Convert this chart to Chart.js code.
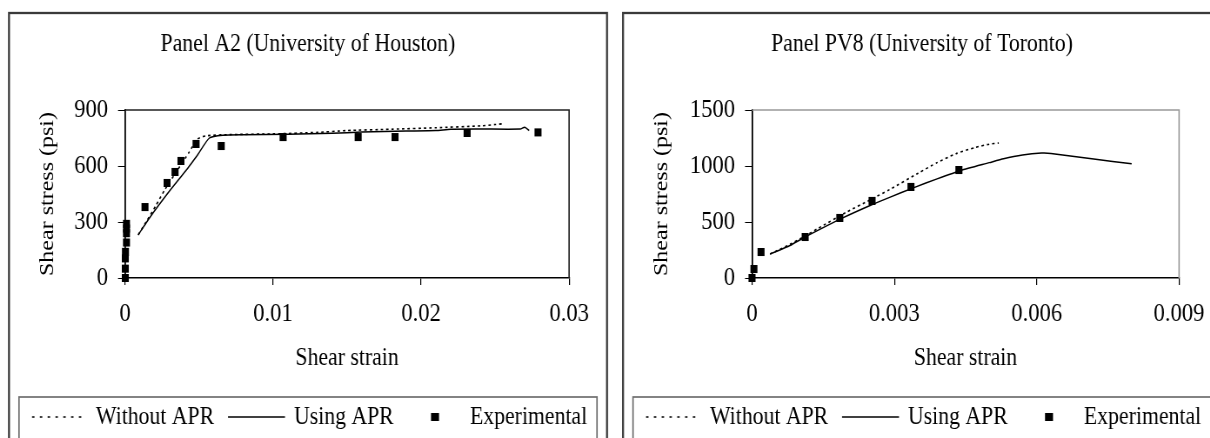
<!DOCTYPE html>
<html>
<head>
<meta charset="utf-8">
<script src="https://cdn.jsdelivr.net/npm/chart.js@4.4.0/dist/chart.umd.min.js"></script>
<style>
  body { margin: 0; background: #fff; }
  #wrap { position: relative; width: 1210px; height: 438px; overflow: hidden; }
  /* the source picture is squeezed sideways, so each panel is drawn wider and narrowed */
  .panel { position: absolute; top: 0; height: 438px; transform: scaleX(0.87); transform-origin: 0 0; }
</style>
</head>
<body>
<div id="wrap">
  <div class="panel" style="left:0;width:707px"><canvas id="chartA2"></canvas></div>
  <div class="panel" style="left:615px;width:684px"><canvas id="chartPV8"></canvas></div>
</div>
<script>
// Panel A2 (University of Houston)
const a2WithoutStrain = [0.0009, 0.0015, 0.0021, 0.0027, 0.0036, 0.0043, 0.0049, 0.0055, 0.007, 0.01, 0.013, 0.015, 0.018, 0.021, 0.024, 0.025, 0.0255];
const a2WithoutStress = [232, 310, 390, 475, 585, 670, 745, 762, 768, 772, 780, 790, 797, 805, 815, 822, 826];
const a2UsingStrain = [0.00088, 0.0017, 0.0029, 0.0037, 0.0043, 0.0049, 0.0057, 0.0066, 0.008, 0.011, 0.014, 0.016, 0.019, 0.021, 0.022, 0.024, 0.0267, 0.027, 0.0273];
const a2UsingStress = [230, 327, 455, 535, 595, 659, 750, 765, 768, 770, 775, 782, 787, 790, 797, 798, 798, 808, 790];
const a2ExpStrain = [0.00002, 0.00002, 0.00002, 0.00003, 0.0001, 0.0001, 0.0001, 0.0001, 0.00135, 0.00284, 0.00338, 0.00378, 0.0048, 0.0065, 0.01068, 0.01575, 0.01824, 0.02311, 0.0279];
const a2ExpStress = [0, 50, 105, 140, 190, 240, 265, 290, 380, 509, 568, 627, 718, 707, 755, 755, 755, 777, 780];
const a2XTicks = [0, 0.01, 0.02, 0.03];
const a2YTicks = [0, 300, 600, 900];

// Panel PV8 (University of Toronto)
const pv8WithoutStrain = [0.00038, 0.0008, 0.0011, 0.0014, 0.002, 0.0025, 0.0029, 0.0035, 0.0039, 0.0043, 0.0047, 0.005, 0.0052];
const pv8WithoutStress = [214, 300, 370, 445, 590, 700, 790, 935, 1030, 1110, 1165, 1195, 1205];
const pv8UsingStrain = [0.00038, 0.0008, 0.0011, 0.0015, 0.0019, 0.0025, 0.0029, 0.0034, 0.0039, 0.0044, 0.005, 0.0053, 0.0057, 0.0061, 0.0063, 0.0072, 0.008];
const pv8UsingStress = [214, 290, 362, 450, 535, 650, 720, 805, 885, 960, 1030, 1065, 1098, 1115, 1112, 1062, 1020];
const pv8ExpStrain = [0, 0.00004, 0.00019, 0.00112, 0.00185, 0.00253, 0.00335, 0.00436];
const pv8ExpStress = [0, 80, 232, 366, 536, 688, 813, 964];
const pv8XTicks = [0, 0.003, 0.006, 0.009];
const pv8YTicks = [0, 500, 1000, 1500];

const legendLabels = ['Without APR', 'Using APR', 'Experimental'];
const xTitle = 'Shear strain';
const yTitle = 'Shear stress (psi)';

const serif = 'Liberation Serif, Times New Roman, serif';
const SX = 0.87;              // same as the css scaleX
const cx = v => v / SX;       // page px -> canvas px (horizontal only)

function pairs(xs, ys) {
    return xs.map((x, i) => ({ x: x, y: ys[i] }));
}

// panel border, title, plot frame and boxed legend
const panelDecor = {
    id: 'panelDecor',
    afterDraw(chart, args, opts) {
        const ctx = chart.ctx;
        const a = chart.chartArea;
        const p = opts.panelLeft;
        ctx.save();
        // panel border
        ctx.strokeStyle = '#3a3a3a';
        ctx.lineWidth = 2.3;
        ctx.strokeRect(cx(p), 13, cx(598), 460);
        // top / right edges of the plot area
        ctx.strokeStyle = opts.frameColor;
        ctx.lineWidth = 1.6;
        ctx.beginPath();
        ctx.moveTo(a.left, a.top);
        ctx.lineTo(a.right, a.top);
        ctx.lineTo(a.right, a.bottom);
        ctx.stroke();
        // title
        ctx.fillStyle = '#000';
        ctx.font = '25px ' + serif;
        ctx.textAlign = 'center';
        ctx.textBaseline = 'middle';
        ctx.fillText(opts.title, cx(p + 299), 44);
        // legend box
        const lx = p + 10;
        const ly = 417;
        ctx.strokeStyle = '#6e6e6e';
        ctx.lineWidth = 1.7;
        ctx.strokeRect(cx(lx), 397, cx(578), 60);
        ctx.strokeStyle = '#000';
        ctx.lineWidth = 1.6;
        ctx.setLineDash([cx(2.5), cx(5.3)]);
        ctx.beginPath();
        ctx.moveTo(cx(lx + 13), ly);
        ctx.lineTo(cx(lx + 67), ly);
        ctx.stroke();
        ctx.setLineDash([]);
        ctx.lineWidth = 1.4;
        ctx.beginPath();
        ctx.moveTo(cx(lx + 209), ly);
        ctx.lineTo(cx(lx + 266), ly);
        ctx.stroke();
        ctx.fillRect(cx(lx + 412), ly - 4, cx(8), 8);
        ctx.textAlign = 'left';
        ctx.fillText(legendLabels[0], cx(lx + 77), ly);
        ctx.fillText(legendLabels[1], cx(lx + 275), ly);
        ctx.fillText(legendLabels[2], cx(lx + 451), ly);
        ctx.restore();
    }
};

function makePanel(id, cfg) {
    const ctx = document.getElementById(id).getContext('2d');
    return new Chart(ctx, {
        type: 'scatter',
        data: {
            datasets: [{
                label: legendLabels[0],
                data: pairs(cfg.withoutStrain, cfg.withoutStress),
                showLine: true,
                borderColor: '#000',
                borderWidth: 1.6,
                borderDash: [2.8, 3.4],
                pointRadius: 0,
                tension: 0.2
            }, {
                label: legendLabels[1],
                data: pairs(cfg.usingStrain, cfg.usingStress),
                showLine: true,
                borderColor: '#000',
                borderWidth: 1.5,
                pointRadius: 0,
                tension: 0.2
            }, {
                label: legendLabels[2],
                data: pairs(cfg.expStrain, cfg.expStress),
                showLine: false,
                pointStyle: 'rect',
                pointRadius: 5.7,
                borderWidth: 0,
                backgroundColor: '#000',
                clip: false
            }]
        },
        options: {
            responsive: true,
            maintainAspectRatio: false,
            animation: false,
            devicePixelRatio: 1,
            layout: { padding: { left: cx(10), right: cx(cfg.padRight), top: 110, bottom: 50 } },
            plugins: {
                legend: { display: false },
                title: { display: false },
                tooltip: { enabled: false },
                panelDecor: { panelLeft: cfg.panelLeft, title: cfg.title, frameColor: cfg.frameColor }
            },
            scales: {
                x: {
                    type: 'linear',
                    min: cfg.xTicks[0],
                    max: cfg.xTicks[cfg.xTicks.length - 1],
                    afterBuildTicks: s => { s.ticks = cfg.xTicks.map(v => ({ value: v })); },
                    afterFit: s => { s.height = 110; s.paddingLeft = 0; s.paddingRight = 0; },
                    grid: { drawOnChartArea: false, drawTicks: true, tickLength: 7, color: '#000', lineWidth: 1.2 },
                    border: { color: '#000', width: 1.5 },
                    ticks: {
                        color: '#000', padding: 14, maxRotation: 0,
                        font: { family: serif, size: 26 },
                        callback: v => String(v)
                    },
                    title: {
                        display: true, text: xTitle, color: '#000',
                        font: { family: serif, size: 25 },
                        padding: { top: 0, bottom: 15 }
                    }
                },
                y: {
                    type: 'linear',
                    min: cfg.yTicks[0],
                    max: cfg.yTicks[cfg.yTicks.length - 1],
                    afterBuildTicks: s => { s.ticks = cfg.yTicks.map(v => ({ value: v })); },
                    afterFit: s => { s.width = cx(cfg.yWidth); s.paddingTop = 0; s.paddingBottom = 0; },
                    grid: { drawOnChartArea: false, drawTicks: true, tickLength: cx(7), color: '#000' },
                    border: { color: '#000', width: 1.8 },
                    ticks: {
                        color: '#000', padding: cx(10),
                        font: { family: serif, size: 26 },
                        callback: v => String(v)
                    },
                    title: {
                        display: true, text: yTitle, color: '#000',
                        font: { family: serif, size: 24 },
                        padding: { top: cx(cfg.yTitleX) - cx(10) - 14.4, bottom: 0 }
                    }
                }
            }
        },
        plugins: [panelDecor]
    });
}

makePanel('chartA2', {
    title: 'Panel A2 (University of Houston)',
    panelLeft: 9, padRight: 46, yWidth: 115, yTitleX: 48, frameColor: '#222',
    withoutStrain: a2WithoutStrain, withoutStress: a2WithoutStress,
    usingStrain: a2UsingStrain, usingStress: a2UsingStress,
    expStrain: a2ExpStrain, expStress: a2ExpStress,
    xTicks: a2XTicks, yTicks: a2YTicks
});

makePanel('chartPV8', {
    title: 'Panel PV8 (University of Toronto)',
    panelLeft: 8, padRight: 31, yWidth: 127, yTitleX: 47, frameColor: '#999',
    withoutStrain: pv8WithoutStrain, withoutStress: pv8WithoutStress,
    usingStrain: pv8UsingStrain, usingStress: pv8UsingStress,
    expStrain: pv8ExpStrain, expStress: pv8ExpStress,
    xTicks: pv8XTicks, yTicks: pv8YTicks
});
</script>
</body>
</html>
